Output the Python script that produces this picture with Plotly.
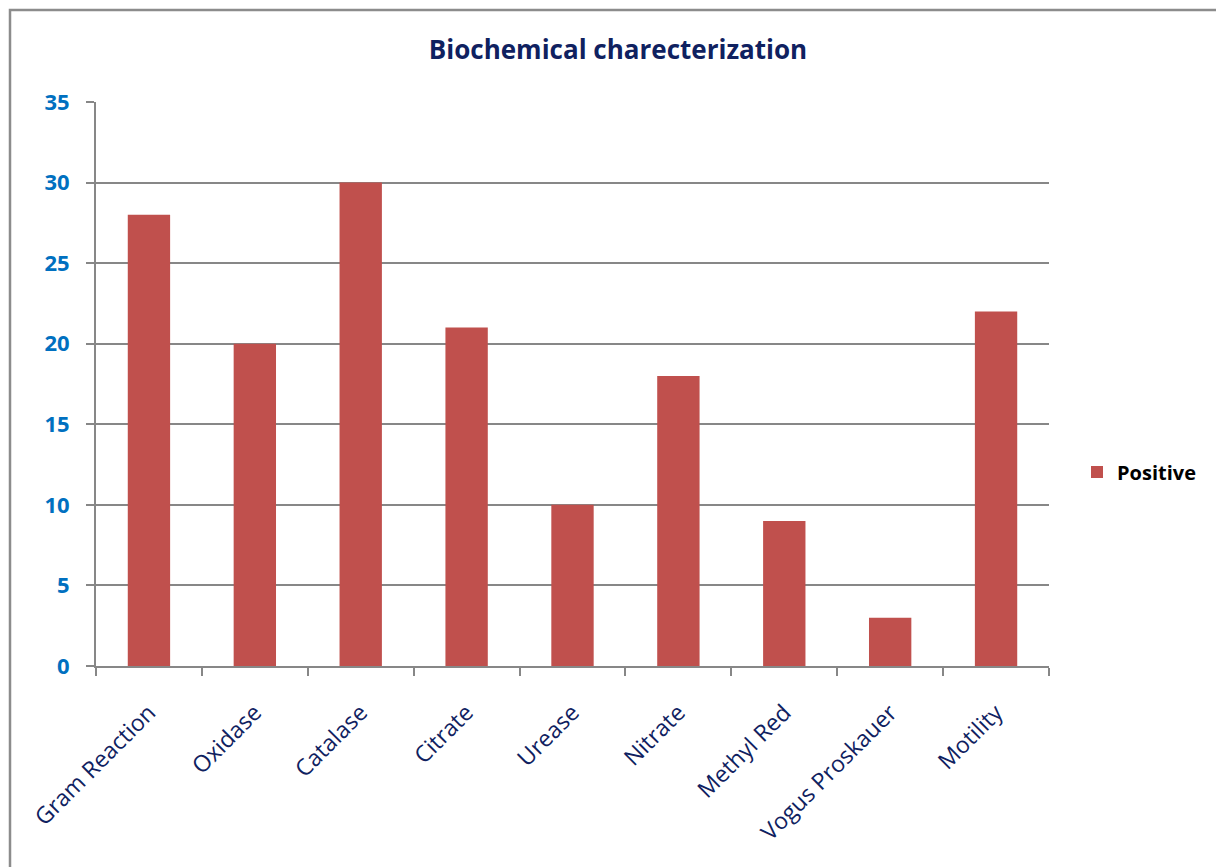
import plotly.graph_objects as go

# Biochemical test results: number of positive isolates per test
tests = ["Gram Reaction", "Oxidase", "Catalase", "Citrate", "Urease",
         "Nitrate", "Methyl Red", "Vogus Proskauer", "Motility"]
positive = [28, 20, 30, 21, 10, 18, 9, 3, 22]
y_ticks = [0, 5, 10, 15, 20, 25, 30, 35]

W, H = 1216, 867
L, R, T, B = 96, 1049, 102, 666          # plot area in pixels
pw, ph = R - L, B - T

def px(x):
    return (x - L) / pw

def py(y):
    return (B - y) / ph

GRID = "#878787"
FONT = "Open Sans"

fig = go.Figure(go.Bar(
    x=tests, y=positive, name="<b>Positive</b>",
    marker=dict(color="#C0504D", line=dict(width=0)),
    showlegend=True,
))

fig.update_layout(
    width=W, height=H,
    margin=dict(l=L, r=W - R, t=T, b=H - B, autoexpand=False),
    paper_bgcolor="white", plot_bgcolor="white",
    bargap=0.6,
    title=dict(text="<b>Biochemical charecterization</b>",
               font=dict(family=FONT, size=26, color="#0F2160"),
               x=618 / W, xref="container", xanchor="center",
               y=1 - 50 / H, yref="container", yanchor="middle"),
    legend=dict(x=px(1077), y=py(472), xanchor="left", yanchor="middle",
                font=dict(family=FONT, size=20, color="black"),
                bgcolor="rgba(0,0,0,0)"),
    font=dict(family=FONT),
)

fig.update_xaxes(
    type="category", showgrid=False, showline=True, linecolor=GRID, linewidth=2,
    ticks="outside", tickson="boundaries", ticklen=8, tickcolor=GRID, tickwidth=2,
    tickangle=-45, tickfont=dict(family=FONT, size=23, color="#0F2160"),
    ticklabelstandoff=22, range=[-0.5, 8.5],
)

fig.update_yaxes(
    range=[0, 35], tickvals=y_ticks, showgrid=True, gridcolor=GRID, gridwidth=2,
    showline=True, linecolor=GRID, linewidth=2, zeroline=False,
    ticks="outside", ticklen=8, tickcolor=GRID, tickwidth=2,
    tickfont=dict(family=FONT, size=22, color="#0070C0", weight="bold"),
    ticklabelstandoff=12,
)

# outer chart frame
fig.add_shape(type="rect", xref="paper", yref="paper",
              x0=px(10), x1=px(1240), y0=py(900), y1=py(10),
              line=dict(color="#8C8C8C", width=2.5), fillcolor="rgba(0,0,0,0)",
              layer="below")

fig.write_html("out.html")
